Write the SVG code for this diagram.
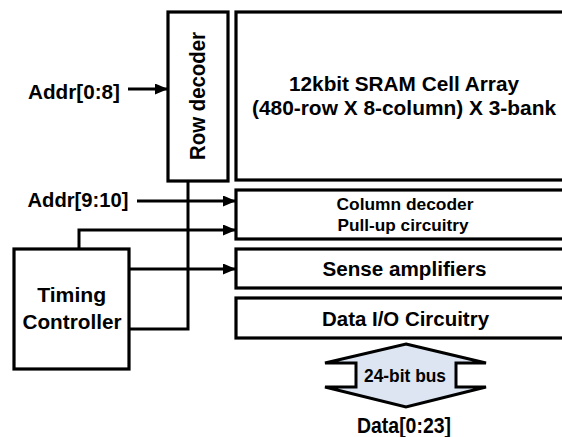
<svg xmlns="http://www.w3.org/2000/svg" width="562" height="437" viewBox="0 0 562 437">
  <style>
    .box { fill: #ffffff; stroke: #000000; stroke-width: 3.2; }
    .wire { fill: none; stroke: #000000; stroke-width: 3; }
    .t { font-family: "Liberation Sans", Arial, sans-serif; font-weight: bold; fill: #000000; text-anchor: middle; }
  </style>
  <defs>
    <marker id="arrow" viewBox="0 0 13 11" refX="13" refY="5.5" markerWidth="13" markerHeight="11" markerUnits="userSpaceOnUse" orient="auto">
      <path d="M0,0 L13,5.5 L0,11 Z" fill="#000000"/>
    </marker>
  </defs>

  <rect width="562" height="437" fill="#ffffff"/>

  <!-- Connectors -->
  <g id="connectors">
    <path class="wire" d="M128,89 H168" marker-end="url(#arrow)"/>
    <path class="wire" d="M137,201 H236" marker-end="url(#arrow)"/>
    <path class="wire" d="M79,249 V230 H236" marker-end="url(#arrow)"/>
    <path class="wire" d="M129,269 H236" marker-end="url(#arrow)"/>
    <path class="wire" d="M188,181 V329 H129"/>
  </g>

  <!-- Input labels -->
  <text class="t" x="74" y="99" font-size="21" textLength="92" lengthAdjust="spacingAndGlyphs">Addr[0:8]</text>
  <text class="t" x="78" y="207" font-size="21" textLength="101" lengthAdjust="spacingAndGlyphs">Addr[9:10]</text>

  <g id="row-decoder">
    <rect class="box" x="168" y="12" width="60" height="169"/>
    <text class="t" transform="translate(205,96) rotate(-90)" x="0" y="0" font-size="21.5" textLength="128" lengthAdjust="spacingAndGlyphs">Row decoder</text>
  </g>

  <g id="cell-array">
    <rect class="box" x="236" y="12" width="340" height="168"/>
    <text class="t" x="404" y="90.5" font-size="21" textLength="230" lengthAdjust="spacingAndGlyphs">12kbit SRAM Cell Array</text>
    <text class="t" x="404" y="115" font-size="21" textLength="304" lengthAdjust="spacingAndGlyphs">(480-row X 8-column) X 3-bank</text>
  </g>

  <g id="column-decoder">
    <rect class="box" x="236" y="190" width="340" height="49"/>
    <text class="t" x="405" y="209.5" font-size="17" textLength="137" lengthAdjust="spacingAndGlyphs">Column decoder</text>
    <text class="t" x="403" y="230.5" font-size="17" textLength="131" lengthAdjust="spacingAndGlyphs">Pull-up circuitry</text>
  </g>

  <g id="sense-amplifiers">
    <rect class="box" x="236" y="249" width="340" height="39"/>
    <text class="t" x="404.5" y="276" font-size="20" textLength="164" lengthAdjust="spacingAndGlyphs">Sense amplifiers</text>
  </g>

  <g id="data-io">
    <rect class="box" x="236" y="298" width="340" height="40"/>
    <text class="t" x="405.5" y="326" font-size="20.5" textLength="167" lengthAdjust="spacingAndGlyphs">Data I/O Circuitry</text>
  </g>

  <g id="timing-controller">
    <rect class="box" x="14" y="249" width="115" height="120"/>
    <text class="t" x="71.7" y="302" font-size="21" textLength="69" lengthAdjust="spacingAndGlyphs">Timing</text>
    <text class="t" x="72" y="329" font-size="21" textLength="99" lengthAdjust="spacingAndGlyphs">Controller</text>
  </g>

  <g id="data-bus">
    <path d="M406,344 L486,363 H456 V387 H486 L406,407 L325,387 H356 V363 H325 Z" fill="#dde5f2" stroke="#000000" stroke-width="3" stroke-linejoin="miter"/>
    <text class="t" x="405" y="382" font-size="17.5" textLength="82" lengthAdjust="spacingAndGlyphs">24-bit bus</text>
  </g>

  <text class="t" x="404" y="432.5" font-size="21.5" textLength="94" lengthAdjust="spacingAndGlyphs">Data[0:23]</text>
</svg>
